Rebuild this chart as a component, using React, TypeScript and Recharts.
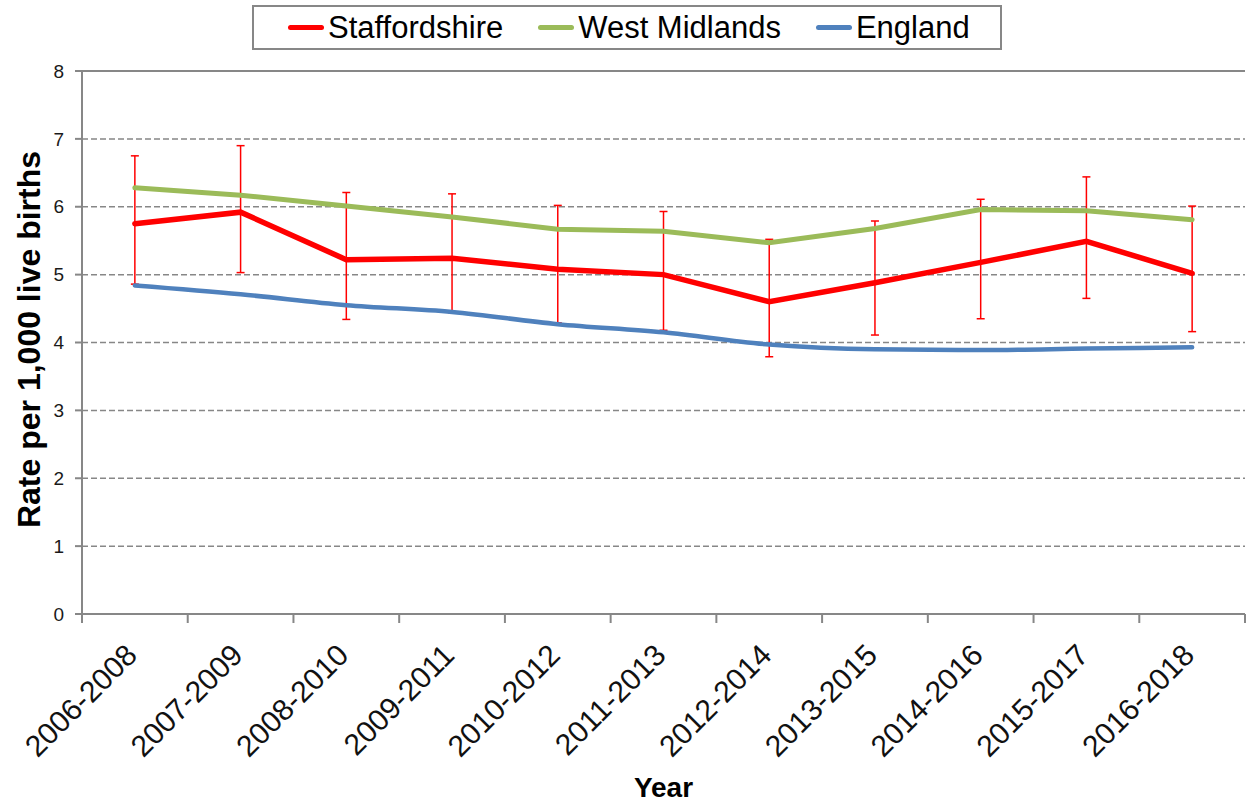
import React from 'react';
import { LineChart, Line, XAxis, YAxis, CartesianGrid, ErrorBar, Legend, ReferenceLine, Label } from 'recharts';

const periods = [
  '2006-2008', '2007-2009', '2008-2010', '2009-2011', '2010-2012', '2011-2013',
  '2012-2014', '2013-2015', '2014-2016', '2015-2017', '2016-2018',
];
const staffordshire = [5.75, 5.92, 5.22, 5.24, 5.08, 5.0, 4.6, 4.88, 5.18, 5.49, 5.02];
const staffordshireLower = [4.86, 5.03, 4.34, 4.44, 4.29, 4.18, 3.79, 4.11, 4.35, 4.65, 4.16];
const staffordshireUpper = [6.75, 6.9, 6.21, 6.19, 6.02, 5.93, 5.52, 5.79, 6.11, 6.44, 6.01];
const westMidlands = [6.28, 6.17, 6.01, 5.85, 5.67, 5.64, 5.47, 5.68, 5.96, 5.94, 5.81];
const england = [4.84, 4.71, 4.55, 4.45, 4.27, 4.15, 3.97, 3.9, 3.89, 3.91, 3.93];
const yTicks = [0, 1, 2, 3, 4, 5, 6, 7, 8];
const seriesOrder = ['Staffordshire', 'West Midlands', 'England'];

const data = periods.map((p, i) => ({
  period: p,
  staffordshire: staffordshire[i],
  ci: [staffordshire[i] - staffordshireLower[i], staffordshireUpper[i] - staffordshire[i]],
  westMidlands: westMidlands[i],
  england: england[i],
}));

const FONT = '"Liberation Sans", Arial, sans-serif';
const GREY = '#878787';
// half of one category slot: (plot width 1163) / 11 / 2
const HALF_BAND = 52.86;

const PeriodTick = (props: any) => {
  const { x, y, payload } = props;
  const last = payload.value === periods[periods.length - 1];
  const tx = x + 4;
  const ty = y + 43;
  return (
    <g>
      <line x1={x - HALF_BAND} y1={y} x2={x - HALF_BAND} y2={y + 9} stroke={GREY} strokeWidth={2} />
      {last && <line x1={x + HALF_BAND} y1={y} x2={x + HALF_BAND} y2={y + 9} stroke={GREY} strokeWidth={2} />}
      <text x={tx} y={ty} textAnchor="end" fontSize={30} fill="#111" transform={`rotate(-45, ${tx}, ${ty})`}>
        {payload.value}
      </text>
    </g>
  );
};

const LegendBox = (props: any) => {
  const items = [...(props.payload || [])].sort(
    (a: any, b: any) => seriesOrder.indexOf(a.value) - seriesOrder.indexOf(b.value)
  );
  return (
    <div
      style={{
        boxSizing: 'border-box',
        width: 750,
        height: 45,
        border: `2px solid ${GREY}`,
        background: '#fff',
        display: 'flex',
        alignItems: 'center',
        paddingLeft: 34,
        fontSize: 31,
        color: '#000',
        fontFamily: FONT,
        whiteSpace: 'nowrap',
      }}
    >
      {items.map((item: any) => (
        <div key={item.value} style={{ display: 'flex', alignItems: 'center', marginRight: 35, flexShrink: 0 }}>
          <span style={{ display: 'inline-block', width: 36, height: 5, borderRadius: 3, background: item.color, marginRight: 4 }} />
          <span>{item.value}</span>
        </div>
      ))}
    </div>
  );
};

export default function App() {
  return (
    <div style={{ position: 'absolute', left: 0, top: 0, width: 1249, height: 801, background: '#fff', fontFamily: FONT }}>
      <LineChart width={1249} height={801} data={data} margin={{ top: 71, right: 4, bottom: 0, left: 0 }}>
        <CartesianGrid vertical={false} stroke={GREY} strokeWidth={1.5} strokeDasharray="6 3" />
        <XAxis
          dataKey="period"
          height={187}
          interval={0}
          padding={{ left: HALF_BAND, right: HALF_BAND }}
          tickLine={false}
          tickSize={0}
          tickMargin={0}
          axisLine={{ stroke: GREY, strokeWidth: 2 }}
          tick={<PeriodTick />}
        >
          <Label value="Year" position="insideBottom" offset={4} fontSize={28} fontWeight="bold" fill="#000" />
        </XAxis>
        <YAxis
          width={82}
          domain={[0, 8]}
          ticks={yTicks}
          tickSize={7}
          tickMargin={11}
          tick={{ fontSize: 19, fill: '#1a1a1a' }}
          tickLine={{ stroke: GREY, strokeWidth: 2 }}
          axisLine={{ stroke: GREY, strokeWidth: 2 }}
        >
          <Label
            value="Rate per 1,000 live births"
            angle={-90}
            position="center"
            dx={-12}
            dy={-3}
            fontSize={32}
            fontWeight="bold"
            fill="#000"
          />
        </YAxis>
        <YAxis
          yAxisId="frame"
          orientation="right"
          width={0}
          domain={[0, 8]}
          tick={false}
          tickLine={false}
          axisLine={{ stroke: GREY, strokeWidth: 2 }}
        />
        <ReferenceLine y={8} stroke={GREY} strokeWidth={2} />
        <Legend
          layout="horizontal"
          verticalAlign="middle"
          align="center"
          content={<LegendBox />}
          wrapperStyle={{ top: 5, left: 252, width: 750, height: 45 }}
        />
        <Line
          name="Staffordshire"
          dataKey="staffordshire"
          stroke="#FF0000"
          strokeWidth={5.5}
          strokeLinecap="round"
          dot={false}
          activeDot={false}
          isAnimationActive={false}
        >
          <ErrorBar dataKey="ci" direction="y" width={4} stroke="#FF0000" strokeWidth={1.5} isAnimationActive={false} />
        </Line>
        <Line
          name="West Midlands"
          dataKey="westMidlands"
          stroke="#9BBB59"
          strokeWidth={5}
          strokeLinecap="round"
          dot={false}
          activeDot={false}
          isAnimationActive={false}
        />
        <Line
          name="England"
          type="monotone"
          dataKey="england"
          stroke="#4F81BD"
          strokeWidth={4.5}
          strokeLinecap="round"
          dot={false}
          activeDot={false}
          isAnimationActive={false}
        />
      </LineChart>
    </div>
  );
}
